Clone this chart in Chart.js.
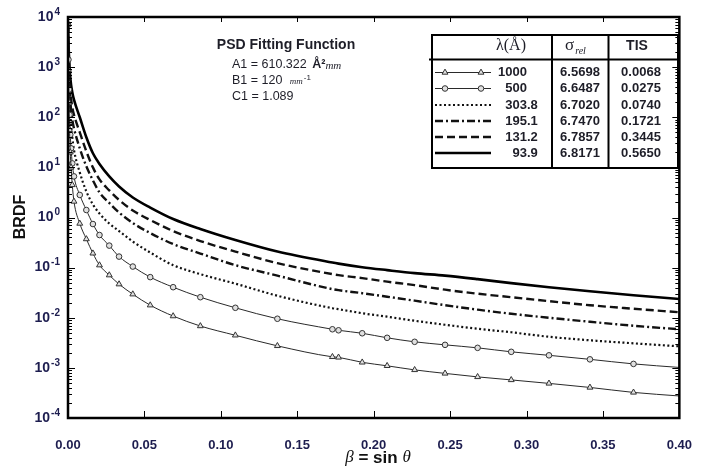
<!DOCTYPE html>
<html>
<head>
<meta charset="utf-8">
<script src="https://cdn.jsdelivr.net/npm/chart.js@4/dist/chart.umd.min.js"></script>
<style>
  html, body { margin: 0; padding: 0; background: #fff; }
  canvas { display: block; }
</style>
</head>
<body>
<canvas id="brdf" width="704" height="470"></canvas>
<script>
// Scatter angle beta = sin(theta) at the sampled points
const beta = [0, 0.0003, 0.0006, 0.001, 0.0015, 0.002, 0.0028, 0.0039, 0.0077, 0.012,
  0.0163, 0.0206, 0.027, 0.0334, 0.0424, 0.0538, 0.0688, 0.0866, 0.1095, 0.137,
  0.173, 0.177, 0.1925, 0.2088, 0.2268, 0.2467, 0.268, 0.290, 0.3147, 0.3415, 0.370, 0.400];

// BRDF for each wavelength (Å)
const brdf1000 = [7080, 891, 200, 56.2, 20.0, 10.0, 4.47, 2.09, 0.759, 0.372,
  0.193, 0.112, 0.0708, 0.0468, 0.0295, 0.0178, 0.0108, 0.00684, 0.00447, 0.00275,
  0.00166, 0.00162, 0.00129, 0.00110, 0.000912, 0.000776, 0.000661, 0.000575, 0.000490, 0.000407, 0.000324, 0.000275];
const brdf500 = [7080, 1410, 355, 112, 44.7, 24.0, 12.0, 6.61, 2.82, 1.41,
  0.741, 0.447, 0.275, 0.166, 0.105, 0.0646, 0.0407, 0.0257, 0.0158, 0.00955,
  0.00589, 0.00562, 0.00490, 0.00398, 0.00331, 0.00288, 0.00251, 0.00209, 0.00178, 0.00148, 0.00120, 0.00102];
const brdf303 = [7080, 2000, 708, 282, 126, 70.8, 39.8, 22.4, 7.94, 3.31,
  1.82, 1.20, 0.759, 0.537, 0.331, 0.200, 0.112, 0.0741, 0.0479, 0.0275,
  0.0155, 0.0148, 0.0123, 0.0105, 0.00871, 0.00724, 0.00603, 0.00513, 0.00417, 0.00355, 0.00309, 0.00269];
const brdf195 = [7080, 2510, 1000, 447, 224, 141, 89.1, 60.3, 24.0, 10.5,
  5.50, 3.16, 1.95, 1.26, 0.776, 0.490, 0.295, 0.191, 0.112, 0.0692,
  0.0372, 0.0355, 0.0309, 0.0263, 0.0219, 0.0178, 0.0145, 0.0120, 0.0100, 0.00832, 0.00692, 0.00589];
const brdf131 = [7080, 2820, 1260, 631, 355, 240, 158, 112, 50.1, 20.9,
  10.0, 5.75, 3.47, 2.24, 1.38, 0.891, 0.537, 0.339, 0.209, 0.123,
  0.0741, 0.0708, 0.0617, 0.0525, 0.0447, 0.0363, 0.0302, 0.0257, 0.0214, 0.0178, 0.0151, 0.0129];
const brdf94 = [7080, 3160, 1780, 1000, 631, 447, 316, 224, 100, 39.8,
  19.1, 11.7, 6.61, 4.17, 2.51, 1.58, 0.933, 0.589, 0.355, 0.209,
  0.126, 0.120, 0.102, 0.0891, 0.0776, 0.0692, 0.0589, 0.0490, 0.0407, 0.0339, 0.0282, 0.0237];

// Legend table columns
const wavelengths = ['1000', '500', '303.8', '195.1', '131.2', '93.9'];
const sigmaRel = ['6.5698', '6.6487', '6.7020', '6.7470', '6.7857', '6.8171'];
const tisValues = ['0.0068', '0.0275', '0.0740', '0.1721', '0.3445', '0.5650'];

// Axis ticks
const xTickValues = [0, 0.05, 0.10, 0.15, 0.20, 0.25, 0.30, 0.35, 0.40];
const xTickLabels = ['0.00', '0.05', '0.10', '0.15', '0.20', '0.25', '0.30', '0.35', '0.40'];
const yDecades = [-4, -3, -2, -1, 0, 1, 2, 3, 4];
const yTickExponents = ['-4', '-3', '-2', '-1', '0', '1', '2', '3', '4'];

const SANS = "'Liberation Sans', Arial, sans-serif";
const SERIF = "'Liberation Serif', 'Times New Roman', serif";
const TICK_COLOR = '#1d1d4f';
const INK = '#1e1e28';

const seriesStyles = [
  { data: brdf1000, width: 1, color: '#2a2a2a', dash: [], marker: 'triangle' },
  { data: brdf500,  width: 1, color: '#2a2a2a', dash: [], marker: 'circle' },
  { data: brdf303,  width: 2.2, color: '#111', dash: [2, 2.5], marker: null },
  { data: brdf195,  width: 2.4, color: '#111', dash: [8, 3, 2, 3], marker: null },
  { data: brdf131,  width: 2.4, color: '#111', dash: [8, 4], marker: null },
  { data: brdf94,   width: 2.6, color: '#000', dash: [], marker: null }
];

const datasets = seriesStyles.map((s, i) => ({
  label: wavelengths[i],
  data: beta.map((b, j) => ({ x: b, y: s.data[j] })),
  borderColor: s.color,
  borderWidth: s.width,
  borderDash: s.dash,
  cubicInterpolationMode: 'monotone',
  pointStyle: s.marker || 'circle',
  pointRadius: s.marker ? (ctx => ctx.dataIndex < beta.length - 1 ? (s.marker === 'triangle' ? 3.4 : 2.8) : 0) : 0,
  pointBackgroundColor: '#e0e0e0',
  pointBorderColor: '#333',
  pointBorderWidth: 1,
  fill: false
}));

function strokeLine(ctx, x1, y1, x2, y2) {
  ctx.beginPath(); ctx.moveTo(x1, y1); ctx.lineTo(x2, y2); ctx.stroke();
}

function drawMarker(ctx, kind, x, y) {
  ctx.save();
  ctx.setLineDash([]);
  ctx.lineWidth = 1;
  ctx.strokeStyle = '#333';
  ctx.fillStyle = '#e0e0e0';
  ctx.beginPath();
  if (kind === 'triangle') {
    const r = 3.4;
    ctx.moveTo(x, y - r);
    ctx.lineTo(x + r * 0.866, y + r * 0.5);
    ctx.lineTo(x - r * 0.866, y + r * 0.5);
    ctx.closePath();
  } else {
    ctx.arc(x, y, 2.8, 0, Math.PI * 2);
  }
  ctx.fill(); ctx.stroke();
  ctx.restore();
}

// Inward ticks, heavy frame and power-of-ten labels on the log axis
const framePlugin = {
  id: 'frame',
  afterDatasetsDraw(chart) {
    const { ctx, chartArea: a, scales: { x, y } } = chart;
    ctx.save();
    ctx.strokeStyle = '#000';
    ctx.lineWidth = 1;
    xTickValues.forEach(v => {
      if (v <= 0 || v >= 0.4) return;
      const px = Math.round(x.getPixelForValue(v)) + 0.5;
      strokeLine(ctx, px, a.bottom, px, a.bottom - 7);
      strokeLine(ctx, px, a.top, px, a.top + 5);
    });
    for (let k = -4; k < 4; k++) {
      for (let m = 1; m <= 9; m++) {
        const py = Math.round(y.getPixelForValue(m * Math.pow(10, k))) + 0.5;
        const len = m === 1 ? 7 : 4;
        strokeLine(ctx, a.left, py, a.left + len, py);
        strokeLine(ctx, a.right, py, a.right - len, py);
      }
    }
    ctx.lineWidth = 2.5;
    ctx.strokeRect(a.left, a.top, a.right - a.left, a.bottom - a.top);

    ctx.fillStyle = TICK_COLOR;
    ctx.textBaseline = 'middle';
    ctx.textAlign = 'right';
    const right = a.left - 8;
    yDecades.forEach((k, i) => {
      const py = y.getPixelForValue(Math.pow(10, k));
      const ex = yTickExponents[i];
      ctx.font = `bold 10px ${SANS}`;
      const ew = ctx.measureText(ex).width;
      ctx.fillText(ex, right, py - 5);
      ctx.font = `bold 14px ${SANS}`;
      ctx.fillText('10', right - ew - 1, py);
    });
    ctx.restore();
  }
};

// Axis titles, fit parameters and the wavelength table
const textPlugin = {
  id: 'texts',
  afterDraw(chart) {
    const { ctx } = chart;
    ctx.save();
    ctx.textBaseline = 'middle';

    // y title
    ctx.save();
    ctx.translate(21, 217);
    ctx.rotate(-Math.PI / 2);
    ctx.textAlign = 'center';
    ctx.fillStyle = '#111';
    ctx.font = `bold 16px ${SANS}`;
    ctx.fillText('BRDF', 0, 0);
    ctx.restore();

    // x title: beta = sin theta
    const parts = [
      { t: '\u03B2', f: `italic 17px ${SERIF}` },
      { t: ' = sin ', f: `bold 17px ${SANS}` },
      { t: '\u03B8', f: `italic 17px ${SERIF}` }
    ];
    let total = 0;
    parts.forEach(p => { ctx.font = p.f; p.w = ctx.measureText(p.t).width; total += p.w; });
    let cx = 378 - total / 2;
    ctx.textAlign = 'left';
    ctx.fillStyle = '#111';
    parts.forEach(p => { ctx.font = p.f; ctx.fillText(p.t, cx, 458); cx += p.w; });

    // fit function parameters
    ctx.fillStyle = INK;
    ctx.textAlign = 'center';
    ctx.font = `bold 14px ${SANS}`;
    ctx.fillText('PSD Fitting Function', 286, 45);
    ctx.textAlign = 'left';
    ctx.font = `12.5px ${SANS}`;
    ctx.fillText('A1 = 610.322', 232, 65);
    let w = ctx.measureText('A1 = 610.322 ').width;
    ctx.font = `bold 12.5px ${SANS}`;
    ctx.fillText('\u00C5\u00B2', 232 + w + 2, 65);
    w += ctx.measureText('\u00C5\u00B2').width + 2;
    ctx.font = `italic 11px ${SERIF}`;
    ctx.fillText('mm', 232 + w, 66);
    ctx.font = `12.5px ${SANS}`;
    ctx.fillText('B1 = 120', 232, 81);
    w = ctx.measureText('B1 = 120 ').width;
    ctx.font = `italic 9px ${SERIF}`;
    ctx.fillText('mm', 232 + w + 4, 82);
    const mmW = ctx.measureText('mm').width;
    ctx.font = `8px ${SANS}`;
    ctx.fillText('-1', 232 + w + 4 + mmW + 1, 78);
    ctx.font = `12.5px ${SANS}`;
    ctx.fillText('C1 = 1.089', 232, 97);

    // table frame
    ctx.strokeStyle = '#000';
    ctx.lineWidth = 2;
    ctx.strokeRect(432, 35, 246, 133);
    strokeLine(ctx, 429, 59.5, 678, 59.5);
    strokeLine(ctx, 552, 35, 552, 168);
    strokeLine(ctx, 608.5, 35, 608.5, 168);

    // table header
    ctx.fillStyle = INK;
    ctx.textAlign = 'center';
    ctx.font = `16px ${SERIF}`;
    ctx.fillText('\u03BB(\u00C5)', 511, 46);
    ctx.textAlign = 'left';
    ctx.font = `17px ${SERIF}`;
    ctx.fillText('\u03C3', 565, 46);
    const sw = ctx.measureText('\u03C3').width;
    ctx.font = `italic 10px ${SERIF}`;
    ctx.fillText('rel', 565 + sw + 1, 51);
    ctx.textAlign = 'center';
    ctx.font = `bold 14px ${SANS}`;
    ctx.fillText('TIS', 637, 46);

    // table rows, wavelengths aligned on the decimal point
    const rowY = [72.5, 88.5, 105, 121, 137, 153];
    const decimalX = 527;
    seriesStyles.forEach((s, i) => {
      const ry = rowY[i];
      ctx.save();
      ctx.strokeStyle = s.color;
      ctx.lineWidth = s.width;
      ctx.setLineDash(s.dash);
      strokeLine(ctx, 435, ry, 491, ry);
      ctx.restore();
      if (s.marker) {
        drawMarker(ctx, s.marker, 445, ry);
        drawMarker(ctx, s.marker, 481, ry);
      }
      ctx.fillStyle = INK;
      ctx.font = `bold 13px ${SANS}`;
      const [intPart, fracPart] = wavelengths[i].split('.');
      ctx.textAlign = 'right';
      ctx.fillText(intPart, decimalX, ry);
      if (fracPart !== undefined) {
        ctx.textAlign = 'left';
        ctx.fillText('.' + fracPart, decimalX, ry);
      }
      ctx.textAlign = 'center';
      ctx.fillText(sigmaRel[i], 580, ry);
      ctx.fillText(tisValues[i], 641, ry);
    });
    ctx.restore();
  }
};

new Chart(document.getElementById('brdf'), {
  type: 'line',
  data: { datasets },
  options: {
    responsive: false,
    animation: false,
    devicePixelRatio: 1,
    layout: { padding: { top: 17, right: 14, left: 0, bottom: 0 } },
    plugins: { legend: { display: false }, tooltip: { enabled: false } },
    elements: { line: { tension: 0 } },
    scales: {
      x: {
        type: 'linear',
        min: 0,
        max: 0.4,
        afterBuildTicks: scale => { scale.ticks = xTickValues.map(v => ({ value: v })); },
        afterFit: scale => { scale.height = 52; },
        grid: { display: false },
        border: { display: false },
        ticks: {
          padding: 12,
          color: TICK_COLOR,
          font: { family: SANS, size: 13, weight: 'bold' },
          maxRotation: 0,
          autoSkip: false,
          callback: (v, i) => xTickLabels[i]
        }
      },
      y: {
        type: 'logarithmic',
        min: 1e-4,
        max: 1e4,
        afterBuildTicks: scale => { scale.ticks = yDecades.map(k => ({ value: Math.pow(10, k) })); },
        afterFit: scale => { scale.width = 68; },
        grid: { display: false },
        border: { display: false },
        ticks: { display: false }
      }
    }
  },
  plugins: [framePlugin, textPlugin]
});
</script>
</body>
</html>
